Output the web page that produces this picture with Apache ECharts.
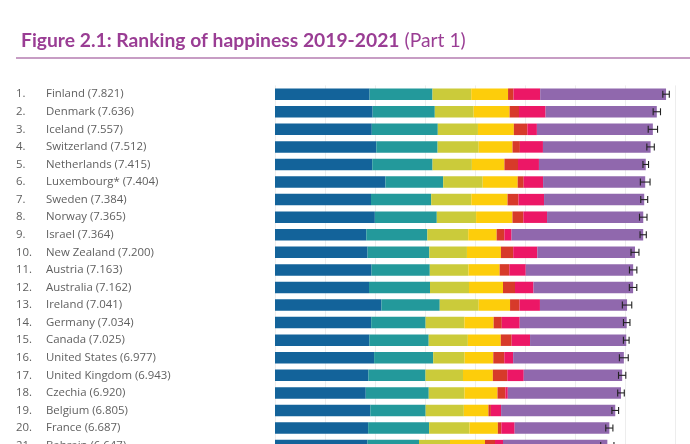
<!DOCTYPE html>
<html>
<head>
<meta charset="utf-8">
<script src="https://cdn.jsdelivr.net/npm/echarts@6/dist/echarts.min.js"></script>
<style>
    html, body {margin: 0; padding: 0; background: #fff; overflow: hidden;}
    #chart {width: 690px; height: 460px;}
</style>
</head>
<body>
<div id="chart"></div>
<script>
// 国家与得分
var countries = ['Finland', 'Denmark', 'Iceland', 'Switzerland', 'Netherlands', 'Luxembourg*', 'Sweden',
    'Norway', 'Israel', 'New Zealand', 'Austria', 'Australia', 'Ireland', 'Germany', 'Canada',
    'United States', 'United Kingdom', 'Czechia', 'Belgium', 'France', 'Bahrain'];
var scores = ['7.821', '7.636', '7.557', '7.512', '7.415', '7.404', '7.384', '7.365', '7.364', '7.200',
    '7.163', '7.162', '7.041', '7.034', '7.025', '6.977', '6.943', '6.920', '6.805', '6.687', '6.647'];

// 各组成部分
var gdp = [1.892, 1.953, 1.936, 2.026, 1.945, 2.209, 1.920, 1.997, 1.826, 1.852, 1.931, 1.880, 2.129, 1.924, 1.886, 1.982, 1.867, 1.815, 1.907, 1.863, 1.850];
var social = [1.258, 1.243, 1.320, 1.226, 1.206, 1.155, 1.204, 1.239, 1.221, 1.235, 1.165, 1.220, 1.166, 1.088, 1.188, 1.182, 1.143, 1.260, 1.106, 1.219, 1.030];
var health = [0.775, 0.777, 0.803, 0.822, 0.787, 0.790, 0.803, 0.786, 0.818, 0.752, 0.774, 0.780, 0.779, 0.776, 0.783, 0.628, 0.750, 0.715, 0.764, 0.808, 0.620];
var freedom = [0.736, 0.719, 0.718, 0.677, 0.651, 0.700, 0.724, 0.728, 0.568, 0.680, 0.623, 0.680, 0.627, 0.585, 0.659, 0.574, 0.597, 0.660, 0.492, 0.567, 0.700];
var generosity = [0.109, 0.188, 0.270, 0.147, 0.271, 0.120, 0.218, 0.217, 0.155, 0.245, 0.193, 0.240, 0.190, 0.163, 0.217, 0.220, 0.289, 0.158, 0.049, 0.070, 0.200];
var corruption = [0.534, 0.532, 0.191, 0.461, 0.419, 0.388, 0.512, 0.474, 0.143, 0.483, 0.329, 0.370, 0.408, 0.358, 0.368, 0.177, 0.329, 0.048, 0.204, 0.266, 0.160];
var dystopia = [2.517, 2.224, 2.319, 2.153, 2.136, 2.042, 2.003, 1.924, 2.633, 1.953, 2.148, 1.992, 1.742, 2.140, 1.924, 2.214, 1.968, 2.264, 2.283, 1.894, 2.087];

// 95% 置信区间
var lower = [7.756, 7.563, 7.464, 7.437, 7.359, 7.307, 7.315, 7.290, 7.301, 7.120, 7.089, 7.087, 6.947, 6.969, 6.968, 6.888, 6.870, 6.854, 6.738, 6.615, 6.514];
var upper = [7.886, 7.710, 7.651, 7.586, 7.471, 7.501, 7.454, 7.440, 7.426, 7.279, 7.237, 7.236, 7.135, 7.099, 7.082, 7.065, 7.016, 6.986, 6.872, 6.758, 6.779];

var parts = [gdp, social, health, freedom, generosity, corruption, dystopia];
var colors = ['#13639a', '#23999b', '#cbcb3a', '#fdcd0b', '#d73a2a', '#ec1766', '#9068ad'];

var chart = echarts.init(document.getElementById('chart'));

var series = parts.map(function (arr, k) {
    return {
        type: 'bar',
        stack: 'total',
        barWidth: 11.5,
        itemStyle: {color: colors[k]},
        data: arr
    };
});

series.push({
    type: 'custom',
    renderItem: function (params, api) {
        var y = api.value(2);
        var p1 = api.coord([api.value(0), y]);
        var p2 = api.coord([api.value(1), y]);
        var h = 3.5;
        var st = {stroke: '#222', lineWidth: 1.1};
        return {
            type: 'group',
            children: [
                {type: 'line', shape: {x1: p1[0], y1: p1[1], x2: p2[0], y2: p2[1]}, style: st},
                {type: 'line', shape: {x1: p1[0], y1: p1[1] - h, x2: p1[0], y2: p1[1] + h}, style: st},
                {type: 'line', shape: {x1: p2[0], y1: p2[1] - h, x2: p2[0], y2: p2[1] + h}, style: st}
            ]
        };
    },
    encode: {x: [0, 1], y: 2},
    z: 10,
    data: lower.map(function (v, i) { return [v, upper[i], i]; })
});

var option = {
    animation: false,
    title: {
        left: 16,
        top: 26,
        text: '{b|Figure 2.1: Ranking of happiness 2019-2021} {n|(Part 1)}',
        textStyle: {
            rich: {
                b: {fontFamily: 'Lato', fontWeight: 'bold', fontSize: 19.3, color: '#9a3d94'},
                n: {fontFamily: 'Lato', fontWeight: 'normal', fontSize: 19.3, color: '#9a3d94'}
            }
        }
    },
    graphic: [{
        type: 'line',
        shape: {x1: 16, y1: 58, x2: 690, y2: 58},
        style: {stroke: '#b57db0', lineWidth: 1.5}
    }],
    grid: {left: 275, width: 400, top: 85.4, height: 369},
    xAxis: {
        type: 'value',
        min: 0,
        max: 8,
        interval: 1,
        axisLabel: {show: false},
        axisLine: {show: false},
        axisTick: {show: false},
        splitLine: {lineStyle: {color: '#ededed', width: 1}}
    },
    yAxis: {
        type: 'category',
        inverse: true,
        data: countries,
        axisLine: {show: false},
        axisTick: {show: false},
        axisLabel: {
            align: 'left',
            margin: 259,
            formatter: function (name, i) {
                return '{r|' + (i + 1) + '.}{n|' + name + ' (' + scores[i] + ')}';
            },
            rich: {
                r: {width: 30, fontFamily: 'Open Sans', fontSize: 11.4, color: '#5f5f5f'},
                n: {fontFamily: 'Open Sans', fontSize: 11.4, color: '#5f5f5f'}
            }
        }
    },
    series: series
};
chart.setOption(option);
</script>
</body>
</html>
